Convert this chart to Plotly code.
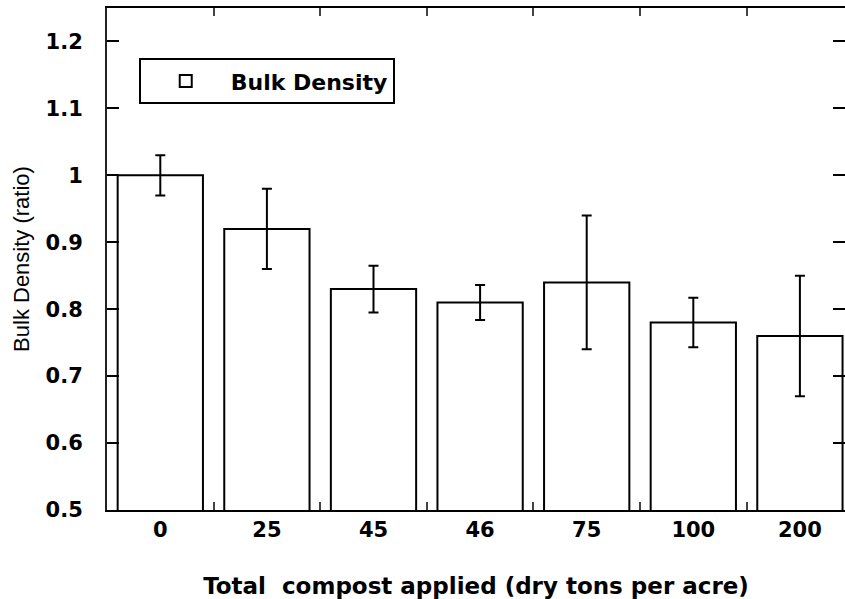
import plotly.graph_objects as go

categories = ["0", "25", "45", "46", "75", "100", "200"]
bulk_density = [1.00, 0.92, 0.83, 0.81, 0.84, 0.78, 0.76]
error = [0.03, 0.06, 0.035, 0.026, 0.10, 0.037, 0.09]
y_ticks = [0.5, 0.6, 0.7, 0.8, 0.9, 1.0, 1.1, 1.2]
y_tick_labels = ["0.5", "0.6", "0.7", "0.8", "0.9", "1", "1.1", "1.2"]

BOLD = "DejaVu Sans, sans-serif"

fig = go.Figure()
fig.add_trace(go.Bar(
    x=categories, y=bulk_density, name="Bulk Density",
    width=0.8,
    marker=dict(color="white", line=dict(color="black", width=2)),
    error_y=dict(type="data", array=error, visible=True,
                 color="black", thickness=2, width=5),
))
# invisible trace to carry right-side ticks
fig.add_trace(go.Scatter(x=categories, y=bulk_density, yaxis="y2",
                         mode="markers", marker=dict(opacity=0),
                         showlegend=False, hoverinfo="skip"))

fig.update_layout(
    width=845, height=599,
    margin=dict(l=107, r=0, t=8, b=89),
    paper_bgcolor="white", plot_bgcolor="white",
    showlegend=True,
    legend=dict(
        x=0.043, y=0.9, xanchor="left", yanchor="top",
        bordercolor="black", borderwidth=2, bgcolor="white",
        font=dict(family=BOLD, size=22, color="black", weight="bold"),
        itemwidth=80,
    ),
    xaxis=dict(
        range=[-0.5, 6.423],
        tickson="boundaries", ticks="inside", ticklen=8, tickwidth=2,
        tickcolor="#444",
        showline=True, linecolor="black", linewidth=2, mirror="ticks",
        showgrid=False,
        tickfont=dict(family=BOLD, size=21, color="black", weight="bold"),
        ticklabelstandoff=0,
        title=dict(text="Total\u00a0 compost applied (dry tons per acre)",
                   font=dict(family=BOLD, size=23, color="black", weight="bold"),
                   standoff=37),
    ),
    yaxis=dict(
        range=[0.5, 1.25],
        tickvals=y_ticks, ticktext=y_tick_labels,
        ticks="inside", ticklen=12, tickwidth=2, tickcolor="black",
        showline=True, linecolor="#222", linewidth=2, mirror=False,
        showgrid=False, zeroline=False,
        tickfont=dict(family=BOLD, size=21, color="black", weight="bold"),
        ticklabelstandoff=18,
        title=dict(text="Bulk Density (ratio)",
                   font=dict(family="Liberation Sans, Arial, sans-serif", size=22, color="black"),
                   standoff=10),
    ),
    yaxis2=dict(
        overlaying="y", side="right", range=[0.5, 1.25],
        tickvals=y_ticks, ticks="inside", ticklen=12, tickwidth=2,
        tickcolor="black", showticklabels=False, showline=False,
        showgrid=False, zeroline=False,
    ),
)

fig.write_html("out.html")
